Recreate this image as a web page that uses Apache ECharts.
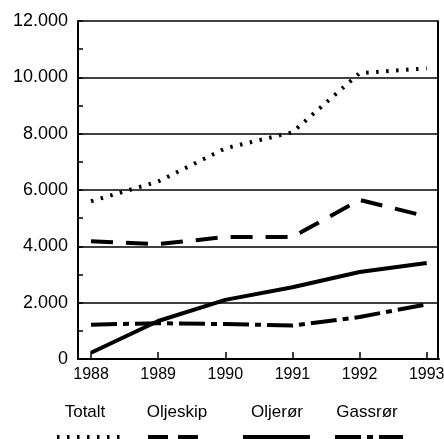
<!DOCTYPE html>
<html>
<head>
<meta charset="utf-8">
<script src="https://cdn.jsdelivr.net/npm/echarts@6/dist/echarts.min.js"></script>
<style>
  html, body { margin: 0; padding: 0; background: #fff; }
  #chart { width: 444px; height: 439px; }
</style>
</head>
<body>
<div id="chart"></div>
<script>
// data
const years = [1988, 1989, 1990, 1991, 1992, 1993]
const totalt = [5600, 6300, 7480, 8050, 10150, 10320]
const oljeskip = [4180, 4080, 4330, 4330, 5650, 5060]
const oljeror = [220, 1350, 2100, 2550, 3090, 3410]
const gassror = [1220, 1270, 1240, 1190, 1490, 1940]
const seriesNames = ['Totalt', 'Oljeskip', 'Oljerør', 'Gassrør']

const FONT = '"Liberation Sans", Arial, sans-serif'

const pairs = arr => arr.map((v, i) => [years[i], v])

const chart = echarts.init(document.getElementById('chart'))

// legend: label with a line sample underneath
const legendStyles = [
  { cx: 85, x1: 57, x2: 122, dash: [2.5, 7.5] },
  { cx: 177, x1: 148, x2: 203, dash: [20, 10] },
  { cx: 277, x1: 243, x2: 310, dash: null },
  { cx: 367, x1: 335, x2: 403, dash: [26, 6, 6, 6] }
]
const legendGraphics = []
seriesNames.forEach((name, i) => {
  const s = legendStyles[i]
  legendGraphics.push({
    type: 'text',
    x: s.cx, y: 412,
    style: { text: name, font: '17px ' + FONT, fill: '#000', textAlign: 'center', textVerticalAlign: 'middle' }
  })
  legendGraphics.push({
    type: 'line',
    shape: { x1: s.x1, y1: 437, x2: s.x2, y2: 437 },
    style: { stroke: '#000', lineWidth: 4, lineDash: s.dash }
  })
})

const lineSeries = (name, data, dash, width) => ({
  name: name,
  type: 'line',
  data: pairs(data),
  symbol: 'none',
  lineStyle: { color: '#000', width: width, type: dash || 'solid' },
  z: 3
})

chart.setOption({
  animation: false,
  backgroundColor: '#fff',
  textStyle: { fontFamily: FONT },
  grid: { left: 78, right: 5, top: 21, bottom: 80, outerBoundsMode: 'none', containLabel: false },
  xAxis: {
    type: 'value',
    min: 1987.806,
    max: 1993.183,
    axisLine: { show: true, onZero: false, lineStyle: { color: '#000', width: 2 } },
    axisTick: { show: true, inside: true, length: 7, customValues: years, lineStyle: { color: '#000', width: 1.5 } },
    axisLabel: { customValues: years, color: '#000', fontSize: 16, fontFamily: FONT, margin: 8, formatter: v => String(v) },
    splitLine: { show: false }
  },
  yAxis: {
    type: 'value',
    min: 0,
    max: 12000,
    interval: 2000,
    axisLine: { show: true, lineStyle: { color: '#000', width: 2 } },
    axisTick: { show: true, inside: true, length: 5, lineStyle: { color: '#000', width: 1.5 } },
    minorTick: { show: true, splitNumber: 2, length: 5, lineStyle: { color: '#000', width: 1.5 } },
    axisLabel: {
      color: '#000', fontSize: 18, fontFamily: FONT, margin: 10,
      formatter: v => v === 0 ? '0' : (v / 1000) + '.000'
    },
    splitLine: { show: true, lineStyle: { color: '#000', width: 1.5 } }
  },
  graphic: legendGraphics,
  series: [
    lineSeries('Totalt', totalt, [2.5, 7.5], 4),
    lineSeries('Oljeskip', oljeskip, [22, 13], 4),
    lineSeries('Oljerør', oljeror, null, 4),
    lineSeries('Gassrør', gassror, [26, 6, 6, 6], 4)
  ]
})

// right border of the plot box
const rb = chart.convertToPixel({ xAxisIndex: 0, yAxisIndex: 0 }, [1993.183, 0])
const rt = chart.convertToPixel({ xAxisIndex: 0, yAxisIndex: 0 }, [1993.183, 12000])
chart.setOption({
  graphic: legendGraphics.concat([{
    type: 'line',
    shape: { x1: rb[0] - 1, y1: rb[1], x2: rt[0] - 1, y2: rt[1] },
    style: { stroke: '#000', lineWidth: 2 }
  }])
})
</script>
</body>
</html>
